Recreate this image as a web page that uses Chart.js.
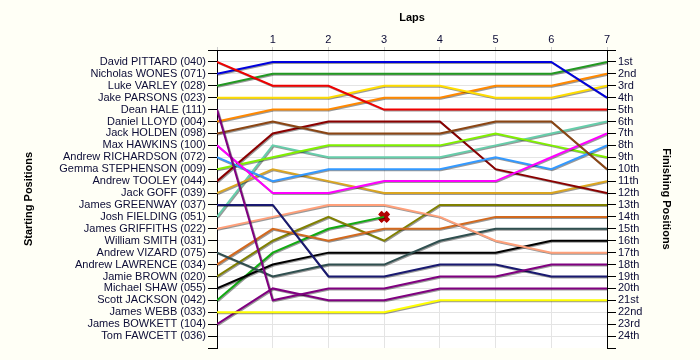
<!DOCTYPE html>
<html>
<head>
<meta charset="utf-8">
<title>Lap chart</title>
<script src="https://cdn.jsdelivr.net/npm/chart.js@4.4.1/dist/chart.umd.min.js"></script>
<style>
  body { margin: 0; background: #fffff6; }
</style>
</head>
<body>
<canvas id="lapChart" width="700" height="360"></canvas>
<script>
// laps shown on the top axis (0 = start)
const laps = [0, 1, 2, 3, 4, 5, 6, 7];

// starting grid, top to bottom
const drivers = [
  "David PITTARD (040)", "Nicholas WONES (071)", "Luke VARLEY (028)", "Jake PARSONS (023)",
  "Dean HALE (111)", "Daniel LLOYD (004)", "Jack HOLDEN (098)", "Max HAWKINS (100)",
  "Andrew RICHARDSON (072)", "Gemma STEPHENSON (009)", "Andrew TOOLEY (044)", "Jack GOFF (039)",
  "James GREENWAY (037)", "Josh FIELDING (051)", "James GRIFFITHS (022)", "William SMITH (031)",
  "Andrew VIZARD (075)", "Andrew LAWRENCE (034)", "Jamie BROWN (020)", "Michael SHAW (055)",
  "Scott JACKSON (042)", "James WEBB (033)", "James BOWKETT (104)", "Tom FAWCETT (036)"
];

const finishing = [
  "1st", "2nd", "3rd", "4th", "5th", "6th", "7th", "8th", "9th", "10th", "11th", "12th",
  "13th", "14th", "15th", "16th", "17th", "18th", "19th", "20th", "21st", "22nd", "23rd", "24th"
];

// position of each driver at the end of each lap (lap 0 = grid)
const pittard    = [1, 3, 3, 5, 5, 5, 5, 5];
const wones      = [2, 1, 1, 1, 1, 1, 1, 4];
const varley     = [3, 2, 2, 2, 2, 2, 2, 1];
const parsons    = [4, 4, 4, 3, 3, 4, 4, 3];
const hale       = [5, 21, 20, 20, 19, 19, 18, 18];
const lloyd      = [6, 5, 5, 4, 4, 3, 3, 2];
const holden     = [7, 6, 7, 7, 7, 6, 6, 10];
const hawkins    = [8, 12, 12, 11, 11, 11, 9, 7];
const richardson = [9, 11, 10, 10, 10, 9, 10, 8];
const stephenson = [10, 9, 8, 8, 8, 7, 8, 9];
const tooley     = [11, 7, 6, 6, 6, 10, 11, 12];
const goff       = [12, 10, 11, 12, 12, 12, 12, 11];
const greenway   = [13, 13, 19, 19, 18, 18, 19, 19];
const fielding   = [14, 8, 9, 9, 9, 8, 7, 6];
const griffiths  = [15, 14, 13, 13, 14, 16, 17, 17];
const smith      = [];
const vizard     = [17, 19, 18, 18, 16, 15, 15, 15];
const lawrence   = [18, 15, 16, 15, 15, 14, 14, 14];
const brown      = [19, 16, 14, 16, 13, 13, 13, 13];
const shaw       = [20, 18, 17, 17, 17, 17, 16, 16];
const jackson    = [21, 17, 15, 14];
const webb       = [22, 22, 22, 22, 21, 21, 21, 21];
const bowkett    = [23, 20, 21, 21, 20, 20, 20, 20];
const fawcett    = [];

const positions = [pittard, wones, varley, parsons, hale, lloyd, holden, hawkins,
  richardson, stephenson, tooley, goff, greenway, fielding, griffiths, smith,
  vizard, lawrence, brown, shaw, jackson, webb, bowkett, fawcett];

const lineColors = [
  "#ee0000", "#0000dd", "#229922", "#ffdd00", "#800080", "#ff8800", "#8b4513", "#ff00ff",
  "#3399ff", "#80f000", "#8b0000", "#daa520", "#191970", "#66cdaa", "#ffa07a", "#999999",
  "#2f4f4f", "#d2691e", "#808000", "#000000", "#11aa11", "#ffff00", "#800080", "#999999"
];

// Scott JACKSON retired after lap 3
const retiredDriver = 20;
const retiredLap = 3;

const textColor = "#0c0c36";
Chart.defaults.font.family = "Arial, 'Liberation Sans', sans-serif";
Chart.defaults.font.size = 11;
Chart.defaults.color = textColor;

const datasets = [];
drivers.forEach((name, i) => {
  if (!positions[i].length) return;
  datasets.push({
    label: name,
    data: positions[i].map((p, lap) => ({ x: laps[lap], y: p })),
    borderColor: lineColors[i],
    borderWidth: 2,
    pointRadius: 0,
    tension: 0,
    fill: false,
  });
});

// red cross where the retired driver stopped (outline + fill)
const retiredPoint = [{ x: laps[retiredLap], y: positions[retiredDriver][retiredLap] }];
datasets.push({
  label: "retired-outline", data: retiredPoint, showLine: false, noShadow: true,
  pointStyle: "crossRot", pointRadius: 6, pointBorderWidth: 5, pointBorderColor: "#b00000",
});
datasets.push({
  label: "retired", data: retiredPoint, showLine: false, noShadow: true,
  pointStyle: "crossRot", pointRadius: 6, pointBorderWidth: 3, pointBorderColor: "#ff0000",
});

// cream page, white plot area
const plotBg = {
  id: "plotBg",
  beforeDraw(chart) {
    const { ctx, chartArea: a } = chart;
    ctx.save();
    ctx.fillStyle = "#fffff6";
    ctx.fillRect(0, 0, chart.width, chart.height);
    ctx.fillStyle = "#ffffff";
    ctx.fillRect(a.left, a.top, a.width, a.height);
    ctx.restore();
  },
};

// small grey shadow under each line
const lineShadow = {
  id: "lineShadow",
  beforeDatasetDraw(chart, args) {
    const c = chart.ctx;
    c.save();
    if (args.meta._dataset.noShadow) return;
    c.shadowColor = "rgba(0,0,0,0.4)";
    c.shadowOffsetX = 1;
    c.shadowOffsetY = 1;
    c.shadowBlur = 0;
  },
  afterDatasetDraw(chart) {
    chart.ctx.restore();
  },
};

const gridColor = (ctx) => (ctx.tick && ctx.tick.value === 25 ? "rgba(0,0,0,0)" : "#e4e4e4");

new Chart(document.getElementById("lapChart"), {
  type: "line",
  data: { datasets: datasets },
  plugins: [plotBg, lineShadow],
  options: {
    responsive: false,
    animation: false,
    layout: { padding: { left: 17, right: 0, top: 0, bottom: 12 } },
    plugins: { legend: { display: false }, tooltip: { enabled: false } },
    scales: {
      x: {
        type: "linear",
        position: "top",
        min: 0,
        max: 7,
        afterFit: (s) => { s.height = 50; },
        title: { display: true, text: "Laps", font: { weight: "bold", size: 11 }, color: "#000", padding: { top: 11, bottom: 0 } },
        ticks: { stepSize: 1, padding: 0, color: textColor, callback: (v) => (v === 0 ? "" : v) },
        grid: { color: "#e4e4e4", tickColor: "#cccccc", tickLength: 3 },
        border: { color: "#000", width: 1 },
      },
      y: {
        type: "linear",
        position: "left",
        min: 0,
        max: 25,
        reverse: true,
        afterFit: (s) => { s.width = 200; },
        title: { display: true, text: "Starting Positions", font: { weight: "bold", size: 11 }, color: "#000", padding: { top: 5, bottom: 0 } },
        ticks: { stepSize: 1, autoSkip: false, padding: 2, color: textColor, callback: (v) => drivers[v - 1] || "" },
        grid: { color: gridColor, tickColor: "#000", tickLength: 9 },
        border: { color: "#000", width: 1 },
      },
      y2: {
        type: "linear",
        position: "right",
        min: 0,
        max: 25,
        reverse: true,
        afterFit: (s) => { s.width = 93; },
        title: { display: true, text: "Finishing Positions", font: { weight: "bold", size: 11 }, color: "#000", padding: { top: 27, bottom: 0 } },
        ticks: { stepSize: 1, autoSkip: false, padding: 2, color: textColor, callback: (v) => finishing[v - 1] || "" },
        grid: { drawOnChartArea: false, tickColor: "#000", tickLength: 9 },
        border: { color: "#000", width: 1 },
      },
    },
  },
});
</script>
</body>
</html>
